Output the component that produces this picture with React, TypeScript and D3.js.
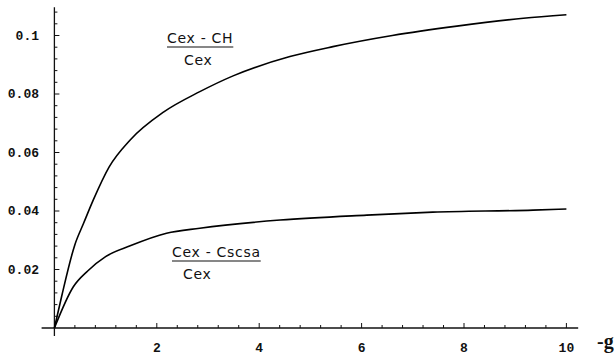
import { useEffect, useRef } from 'react';
import * as d3 from 'd3';

// values
const upperX = [0, 0.14, 0.4, 0.57, 0.76, 1.07, 1.48, 2.13, 2.84, 3.49, 4.6, 5.44, 6.6, 7.86, 9.16, 10];
const upperY = [0, 0.0107, 0.0285, 0.0358, 0.0438, 0.0551, 0.0643, 0.0738, 0.0808, 0.0862, 0.0928, 0.0962, 0.1, 0.1032, 0.1059, 0.1071];
const lowerX = [0, 0.37, 0.65, 1.0, 1.48, 2.19, 2.84, 4.41, 6.1, 7.39, 9.35, 10];
const lowerY = [0, 0.0141, 0.0195, 0.0244, 0.0281, 0.0324, 0.0341, 0.0369, 0.0386, 0.0396, 0.0403, 0.0407];

const xMajor = [2, 4, 6, 8, 10];
const yMajor = [0.02, 0.04, 0.06, 0.08, 0.1];
const yLabels = ['0.02', '0.04', '0.06', '0.08', '0.1'];

export default function App() {
  const ref = useRef<SVGSVGElement>(null);

  useEffect(() => {
    const svgElement = ref.current;
    if (!svgElement) {
      return;
    }
    const svg = d3.select(svgElement);
    svg.selectAll('*').remove();

    const width = 614;
    const height = 360;
    svg.attr('width', width).attr('height', height);

    const x = d3.scaleLinear().domain([0, 10]).range([54.4, 566.4]);
    const y = d3.scaleLinear().domain([0, 0.1]).range([328, 35.5]);

    const axisColor = '#111';
    const axes = svg.append('g');

    // x axis
    axes
      .append('line')
      .attr('x1', x(-0.25))
      .attr('x2', x(10.23))
      .attr('y1', y(0))
      .attr('y2', y(0))
      .attr('stroke', axisColor)
      .attr('stroke-width', 1.3);

    // y axis
    axes
      .append('line')
      .attr('x1', x(0))
      .attr('x2', x(0))
      .attr('y1', y(0.1097))
      .attr('y2', y(-0.0027))
      .attr('stroke', axisColor)
      .attr('stroke-width', 1.3);

    const xMinor = d3.range(1, 26).map((i) => i * 0.4);
    xMinor.forEach((v, i) => {
      const major = (i + 1) % 5 === 0;
      axes
        .append('line')
        .attr('x1', x(v))
        .attr('x2', x(v))
        .attr('y1', y(0))
        .attr('y2', y(0) - (major ? 5 : 3))
        .attr('stroke', axisColor)
        .attr('stroke-width', 1);
    });

    const yMinor = d3.range(1, 28).map((i) => i * 0.004);
    yMinor.forEach((v, i) => {
      const major = (i + 1) % 5 === 0;
      axes
        .append('line')
        .attr('x1', x(0))
        .attr('x2', x(0) + (major ? 5 : 3))
        .attr('y1', y(v))
        .attr('y2', y(v))
        .attr('stroke', axisColor)
        .attr('stroke-width', 1);
    });

    const tickFont = '"Liberation Mono", "DejaVu Sans Mono", monospace';

    axes
      .selectAll('text.xl')
      .data(xMajor)
      .join('text')
      .attr('class', 'xl')
      .attr('x', (d) => x(d))
      .attr('y', 352)
      .attr('text-anchor', 'middle')
      .attr('font-family', tickFont)
      .attr('font-weight', 'bold')
      .attr('font-size', 13)
      .attr('fill', '#111')
      .text((d) => String(d));

    axes
      .selectAll('text.yl')
      .data(yMajor)
      .join('text')
      .attr('class', 'yl')
      .attr('x', 39)
      .attr('y', (d) => y(d) + 4)
      .attr('text-anchor', 'end')
      .attr('font-family', tickFont)
      .attr('font-weight', 'bold')
      .attr('font-size', 13)
      .attr('fill', '#111')
      .text((_d, i) => yLabels[i]);

    axes
      .append('text')
      .attr('x', 597)
      .attr('y', 348)
      .attr('font-family', '"Liberation Serif", serif')
      .attr('font-weight', 'bold')
      .attr('font-size', 20)
      .attr('fill', '#111')
      .text('-g');

    const line = d3
      .line<[number, number]>()
      .x((d) => x(d[0]))
      .y((d) => y(d[1]))
      .curve(d3.curveMonotoneX);

    const upper: [number, number][] = upperX.map((v, i) => [v, upperY[i]]);
    const lower: [number, number][] = lowerX.map((v, i) => [v, lowerY[i]]);

    [upper, lower].forEach((series) => {
      svg
        .append('path')
        .datum(series)
        .attr('d', line)
        .attr('fill', 'none')
        .attr('stroke', '#000')
        .attr('stroke-width', 1.6);
    });

    // fraction labels
    const labelFont = '"DejaVu Sans", sans-serif';
    const fraction = (num: string, den: string, left: number, baseline: number, denLeft: number) => {
      const g = svg.append('g');
      const t = g
        .append('text')
        .attr('x', left)
        .attr('y', baseline)
        .attr('font-family', labelFont)
        .attr('font-size', 14)
        .attr('letter-spacing', 0.7)
        .attr('fill', '#111')
        .text(num);
      const w = (t.node() as SVGTextElement).getComputedTextLength();
      g.append('line')
        .attr('x1', left)
        .attr('x2', left + w)
        .attr('y1', baseline + 4)
        .attr('y2', baseline + 4)
        .attr('stroke', '#111')
        .attr('stroke-width', 1.2);
      g.append('text')
        .attr('x', denLeft)
        .attr('y', baseline + 22)
        .attr('font-family', labelFont)
        .attr('font-size', 14)
        .attr('letter-spacing', 0.7)
        .attr('fill', '#111')
        .text(den);
    };

    fraction('Cex - CH', 'Cex', 167, 43, 184);
    fraction('Cex - Cscsa', 'Cex', 172, 257, 183);
  }, []);

  return <svg ref={ref} style={{ position: 'absolute', left: 0, top: 0, background: '#fff' }} />;
}
